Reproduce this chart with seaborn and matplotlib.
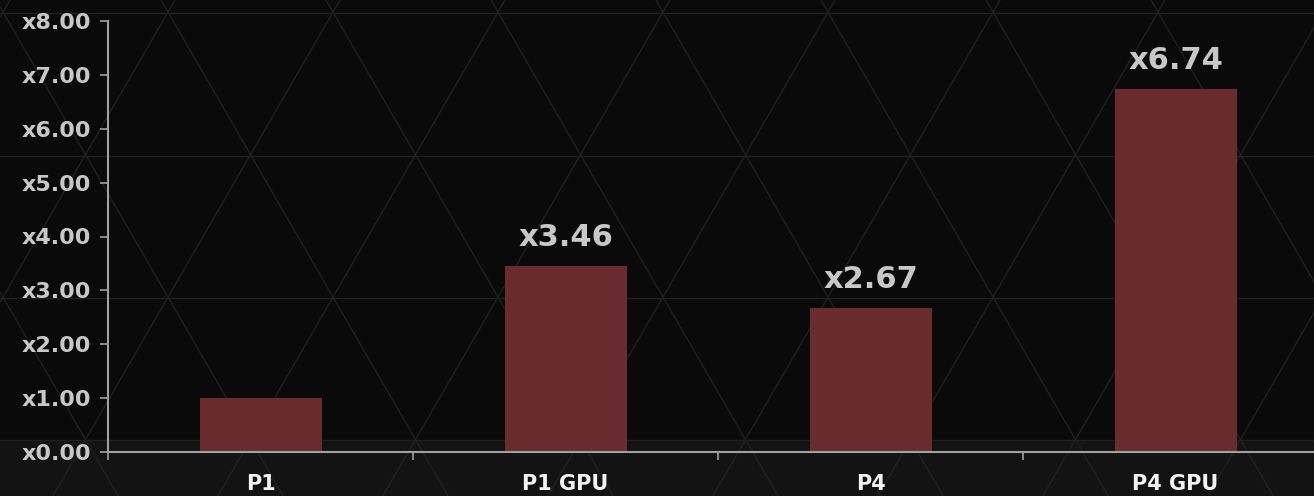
import numpy as np
import matplotlib
matplotlib.use("Agg")
import matplotlib.pyplot as plt
import seaborn as sns

labels = ["P1", "P1 GPU", "P4", "P4 GPU"]
speedup = [1.00, 3.46, 2.67, 6.74]
bar_text = ["", "x3.46", "x2.67", "x6.74"]
yticks = [0, 1, 2, 3, 4, 5, 6, 7, 8]

sns.set_style("dark")
plt.rcParams["font.family"] = ["DejaVu Sans"]

W, H = 1314, 496
fig = plt.figure(figsize=(W / 100, H / 100), dpi=100)
fig.patch.set_facecolor("#0a0a0a")

# decorative triangle lattice behind the chart
bg = fig.add_axes([0, 0, 1, 1], zorder=0)
bg.set_xlim(0, W)
bg.set_ylim(H, 0)
bg.axis("off")
bg.axhspan(440, H, color="#131313", lw=0)
row_h, side = 142.5, 165.0
k = (side / 2) / row_h
line_col = "#202020"
for y in [13, 155.5, 298, 440]:
    bg.plot([0, W], [y, y], color=line_col, lw=1)
ys = np.array([-50, H + 50])
for c in np.arange(161 - 20 * side, W + 20 * side, side):
    bg.plot(c + ys * k, ys, color=line_col, lw=1)
for c in np.arange(505 - 20 * side, W + 20 * side, side):
    bg.plot(c - ys * k, ys, color=line_col, lw=1)

ax = fig.add_axes([108 / W, 44 / H, 1220 / W, 431 / H], zorder=1)
ax.set_facecolor("none")
sns.barplot(x=labels, y=speedup, color="#6d2d2f", saturation=1, width=0.4,
            edgecolor="none", linewidth=0, ax=ax)
for p in ax.patches:
    p.set_alpha(0.97)

ax.bar_label(ax.containers[0], labels=bar_text, padding=10, fontsize=22,
             fontweight="bold", color="#c8c8c8")

ax.set_xlim(-0.5, 3.5)
ax.set_ylim(0, 8)
ax.set_yticks(yticks)
ax.set_yticklabels(["x%.2f" % v for v in yticks], fontsize=16, fontweight="bold", color="#c8c8c8")
ax.set_xticks(range(len(labels)))
ax.set_xticklabels(labels, fontsize=15, fontweight="bold", color="#f2f2f2")
ax.set_xticks([-0.5, 0.5, 1.5, 2.5, 3.5], minor=True)
ax.tick_params(axis="x", which="major", length=0, pad=16, bottom=True)
ax.tick_params(axis="x", which="minor", length=6, width=1.2, color="#a0a0a0",
               direction="out", bottom=True)
ax.tick_params(axis="y", length=6, width=1.2, color="#a0a0a0", direction="out",
               pad=6, left=True)
ax.grid(False)
for s in ["top", "right"]:
    ax.spines[s].set_visible(False)
for s in ["left", "bottom"]:
    ax.spines[s].set_color("#a0a0a0")
    ax.spines[s].set_linewidth(1.5)
ax.set_xlabel("")
ax.set_ylabel("")

fig.savefig("out.png", dpi=100, facecolor=fig.get_facecolor())
